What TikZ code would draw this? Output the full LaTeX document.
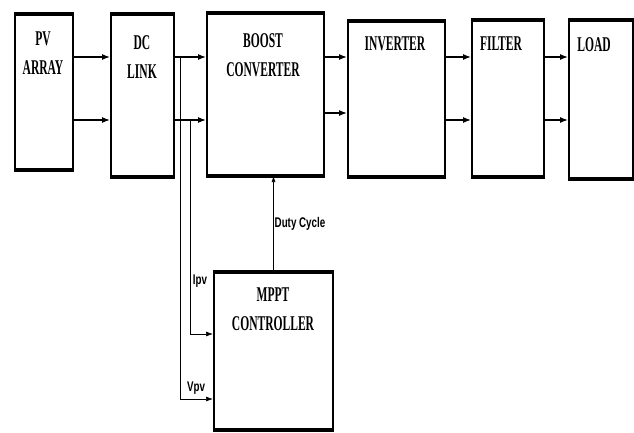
\documentclass[tikz,border=0pt]{standalone}
\usepackage{fontspec}
\setmainfont{Liberation Serif}
\newfontfamily\boxfont[FakeStretch=0.55]{Liberation Serif}
\newfontfamily\sigfont[FakeStretch=0.7]{Liberation Sans}
\usetikzlibrary{arrows.meta,positioning,calc}
\tikzset{
  blk/.style={draw, line width=2pt, anchor=north west, inner sep=0pt},
  blktxt/.style={font=\boxfont\bfseries\fontsize{21}{29}\selectfont, align=center, anchor=north, inner sep=0pt},
  flow/.style={line width=1.2pt, -{Latex[length=8pt,width=6pt]}},
  sense/.style={line width=0.7pt},
  sig/.style={font=\sigfont\bfseries\fontsize{14}{16}\selectfont, inner sep=0pt},
}
\begin{document}
\begin{tikzpicture}[x=1pt, y=-1pt]
\useasboundingbox (0,0) rectangle (634,432);
% ---------------- blocks ----------------
\node[blk, minimum width=58pt,  minimum height=154pt] (pv)     at (14,14)  {};
\node[blk, minimum width=63pt,  minimum height=161pt] (dc)     at (110,14) {};
\node[blk, minimum width=117pt, minimum height=161pt] (boost)  at (206,13) {};
\node[blk, minimum width=97pt,  minimum height=154pt] (inv)    at (347,21) {};
\node[blk, minimum width=72pt,  minimum height=155pt] (filter) at (471,20) {};
\node[blk, minimum width=64pt,  minimum height=157pt] (load)   at (568,20) {};
\node[blk, minimum width=119pt, minimum height=156pt] (mppt)   at (213,272) {};
% heavier top and bottom edges
\foreach \b in {pv,dc,boost,inv,filter,load,mppt}{
  \draw[line width=3.5pt] (\b.north west) -- (\b.north east);
  \draw[line width=3.5pt] (\b.south west) -- (\b.south east);}
% ---------------- block texts ----------------
\node[blktxt] (pvtxt)     at (43,32)   {PV\\ARRAY};
\node[blktxt] (dctxt)     at (142,35)  {DC\\LINK};
\node[blktxt] (boosttxt)  at (263,33)  {BOOST\\CONVERTER};
\node[blktxt] (invtxt)    at (395,37)  {INVERTER};
\node[blktxt] (filtertxt) at (501,37)  {FILTER};
\node[blktxt] (loadtxt)   at (594,37)  {LOAD};
\node[blktxt] (mppttxt)   at (273,288) {MPPT\\CONTROLLER};
% ---------------- power path ----------------
\coordinate (r1) at (0,57);
\coordinate (r2) at (0,120);
\coordinate (r3) at (0,113);
\draw[flow] (pv.east |- r1) -- (dc.west |- r1);
\draw[flow] (pv.east |- r2) -- (dc.west |- r2);
\draw[flow] (dc.east |- r1) -- (boost.west |- r1);
\draw[flow] (dc.east |- r2) -- (boost.west |- r2);
\draw[flow] (boost.east |- r1) -- (inv.west |- r1);
\draw[flow] (boost.east |- r3) -- (inv.west |- r3);
\draw[flow] (inv.east |- r1) -- (filter.west |- r1);
\draw[flow] (inv.east |- r2) -- (filter.west |- r2);
\draw[flow] (filter.east |- r1) -- (load.west |- r1);
\draw[flow] (filter.east |- r2) -- (load.west |- r2);
% ---------------- sensing and control ----------------
\coordinate (vtap) at (180,57);
\coordinate (itap) at (190,120);
\coordinate (vin) at (0,399);
\coordinate (iin) at (0,334);
\draw[sense, -{Latex[length=7pt,width=5pt]}] (vtap) |- (mppt.west |- vin);
\draw[sense, -{Latex[length=7pt,width=5pt]}] (itap) |- (mppt.west |- iin);
\draw[sense, -{Latex[length=6pt,width=4pt]}] (mppt.north) -- (mppt.north |- boost.south);
\node[sig] (duty) at (300,224) {Duty Cycle};
\node[sig] (ipv)  at (200,281) {Ipv};
\node[sig] (vpv)  at (196,388) {Vpv};
\end{tikzpicture}
\end{document}
